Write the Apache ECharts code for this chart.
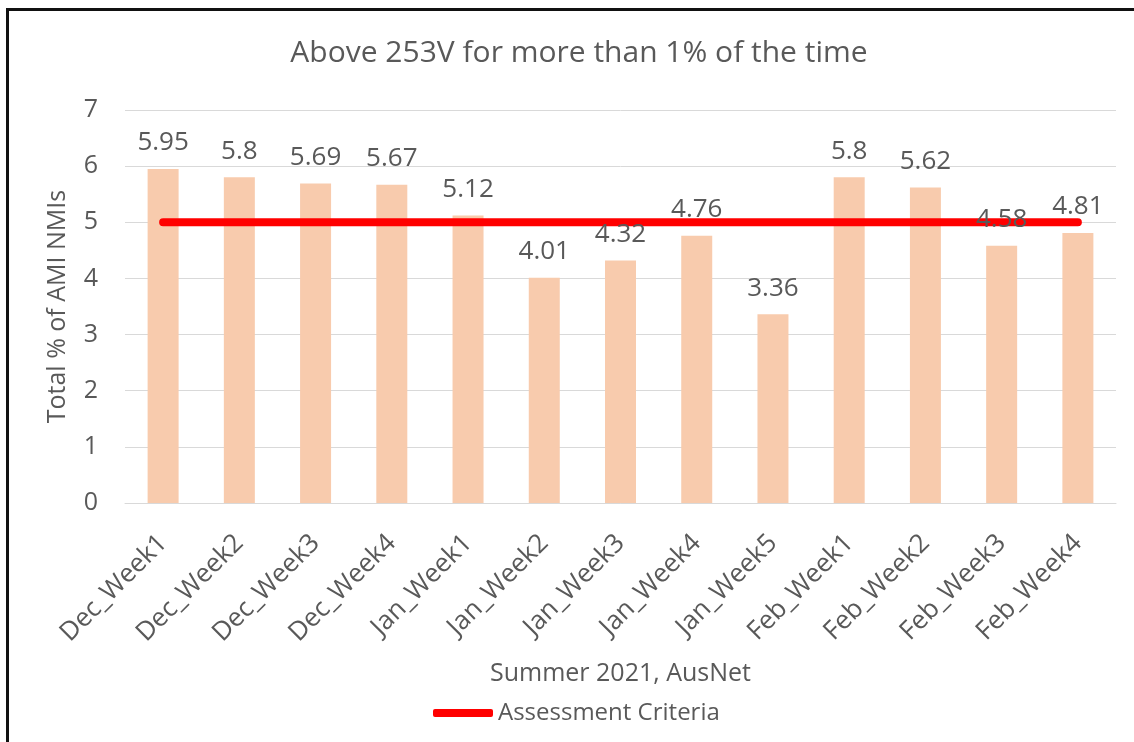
<!DOCTYPE html>
<html>
<head>
<meta charset="utf-8">
<script src="https://cdn.jsdelivr.net/npm/echarts@6/dist/echarts.min.js"></script>
<style>
  html, body { margin: 0; padding: 0; background: #fff; overflow: hidden; }
  #main { width: 1134px; height: 742px; }
</style>
</head>
<body>
<div id="main"></div>
<script>
var weeks = ['Dec_Week1', 'Dec_Week2', 'Dec_Week3', 'Dec_Week4', 'Jan_Week1', 'Jan_Week2',
  'Jan_Week3', 'Jan_Week4', 'Jan_Week5', 'Feb_Week1', 'Feb_Week2', 'Feb_Week3', 'Feb_Week4'];
var pctAbove = [5.95, 5.8, 5.69, 5.67, 5.12, 4.01, 4.32, 4.76, 3.36, 5.8, 5.62, 4.58, 4.81];
var criteria = [5, 5, 5, 5, 5, 5, 5, 5, 5, 5, 5, 5, 5];

var font = 'Open Sans';
var grey = '#595959';

var myChart = echarts.init(document.getElementById('main'));
myChart.setOption({
  animation: false,
  // black frame on the left and top edge, as in the pasted screenshot
  graphic: [{
    type: 'polyline',
    shape: { points: [[7.5, 742], [7.5, 9.5], [1134, 9.5]] },
    style: { stroke: '#111', lineWidth: 3, fill: null },
    silent: true
  }],
  title: {
    text: 'Above 253V for more than 1% of the time',
    left: 574,
    top: 33,
    textAlign: 'center',
    textStyle: { fontFamily: font, fontSize: 30, fontWeight: 'normal', color: grey }
  },
  legend: {
    data: ['Assessment Criteria'],
    left: 433,
    top: 701,
    padding: 0,
    icon: 'roundRect',
    itemWidth: 60,
    itemHeight: 8,
    textStyle: { fontFamily: font, fontSize: 24, color: grey }
  },
  grid: { left: 125, right: 18, top: 110, bottom: 239 },
  xAxis: {
    type: 'category',
    data: weeks,
    name: 'Summer 2021, AusNet',
    nameLocation: 'middle',
    nameGap: 158,
    nameTextStyle: { fontFamily: font, fontSize: 25, color: grey },
    axisLine: { lineStyle: { color: '#d9d9d9', width: 1 } },
    axisTick: { show: false },
    axisLabel: { rotate: 45, margin: 36, interval: 0, fontFamily: font, fontSize: 26, color: grey }
  },
  yAxis: {
    type: 'value',
    min: 0,
    max: 7,
    interval: 1,
    name: 'Total % of AMI NMIs',
    nameLocation: 'middle',
    nameGap: 55,
    nameTextStyle: { fontFamily: font, fontSize: 25, color: grey },
    axisLine: { show: false },
    axisTick: { show: false },
    axisLabel: { margin: 27, fontFamily: font, fontSize: 25, color: grey },
    splitLine: { lineStyle: { color: '#d9d9d9', width: 1 } }
  },
  series: [
    {
      name: 'Percent',
      type: 'bar',
      data: pctAbove,
      barWidth: 31,
      z: 2,
      itemStyle: { color: '#f8cbad' }
    },
    {
      name: 'Assessment Criteria',
      type: 'line',
      data: criteria,
      z: 3,
      symbol: 'none',
      lineStyle: { color: '#ff0000', width: 8, cap: 'round' },
      itemStyle: { color: '#ff0000' }
    },
    {
      // labels only, kept above the red line
      name: 'labels',
      type: 'bar',
      data: pctAbove,
      barWidth: 31,
      barGap: '-100%',
      z: 4,
      itemStyle: { color: 'rgba(0,0,0,0)' },
      label: {
        show: true,
        position: 'top',
        distance: 13,
        fontFamily: font,
        fontSize: 26,
        color: grey
      }
    }
  ]
});
</script>
</body>
</html>
